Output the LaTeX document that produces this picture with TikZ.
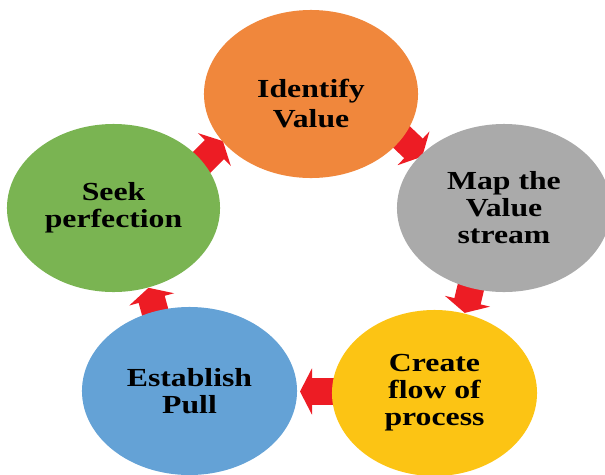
\documentclass[tikz,border=0pt]{standalone}
\usepackage{fontspec}
\setmainfont{Liberation Serif}
\newfontfamily\petalfont[FakeStretch=1.22]{Liberation Serif}
\usetikzlibrary{arrows.meta,shapes.geometric}

\definecolor{orangeC}{RGB}{240,135,60}
\definecolor{grayC}{RGB}{170,170,170}
\definecolor{yellowC}{RGB}{252,196,20}
\definecolor{blueC}{RGB}{100,162,214}
\definecolor{greenC}{RGB}{122,180,82}
\definecolor{redC}{RGB}{237,28,36}

\begin{document}
\begin{tikzpicture}[x=0.025cm, y=-0.025cm,
    petal/.style={ellipse, inner sep=0pt, minimum width=5.35cm, minimum height=4.2cm},
    word/.style={align=center, font=\petalfont\bfseries\fontsize{18.5}{19.2}\selectfont},
    flow/.style={draw=redC, line width=0.675cm, -{Triangle[width=1.15cm, length=0.3cm]}}]

    \useasboundingbox (0, 0) rectangle (605, 474);

    % arrows go first, the ellipses hide their tails
    \coordinate (a1s) at (191.8, 172.2);
    \coordinate (a1e) at (222.9, 141.1);
    \coordinate (a2s) at (390.3, 126.4);
    \coordinate (a2e) at (422.2, 156.6);
    \coordinate (a3s) at (474.5, 272);
    \coordinate (a3e) at (464.7, 312.9);
    \coordinate (a4s) at (342, 391.5);
    \coordinate (a4e) at (300, 391.5);
    \coordinate (a5s) at (159.6, 328.3);
    \coordinate (a5e) at (148.5, 287.8);

    \draw [flow] (a1s) -- (a1e);
    \draw [flow] (a2s) -- (a2e);
    \draw [flow] (a3s) -- (a3e);
    \draw [flow] (a4s) -- (a4e);
    \draw [flow] (a5s) -- (a5e);

    \node [petal, fill=orangeC] (ident) at (311, 94) {};
    \node [petal, fill=grayC] (map) at (504, 208) {};
    \node [petal, fill=yellowC, minimum width=5.125cm, minimum height=4.15cm] (flowp) at (434.5, 393) {};
    \node [petal, fill=blueC, minimum width=5.375cm] (pull) at (189.5, 391) {};
    \node [petal, fill=greenC, minimum width=5.325cm] (seek) at (113.5, 208) {};

    \node [word, font=\petalfont\bfseries\fontsize{18.5}{21.5}\selectfont] (identtxt) at ([yshift=-0.24cm]ident) {Identify\\Value};
    \node [word] (maptxt) at (map) {Map the\\Value\\stream};
    \node [word] (flowtxt) at (flowp) {Create\\flow of\\process};
    \node [word] (pulltxt) at (pull) {Establish\\Pull};
    \node [word] (seektxt) at (seek) {Seek\\perfection};
\end{tikzpicture}
\end{document}
